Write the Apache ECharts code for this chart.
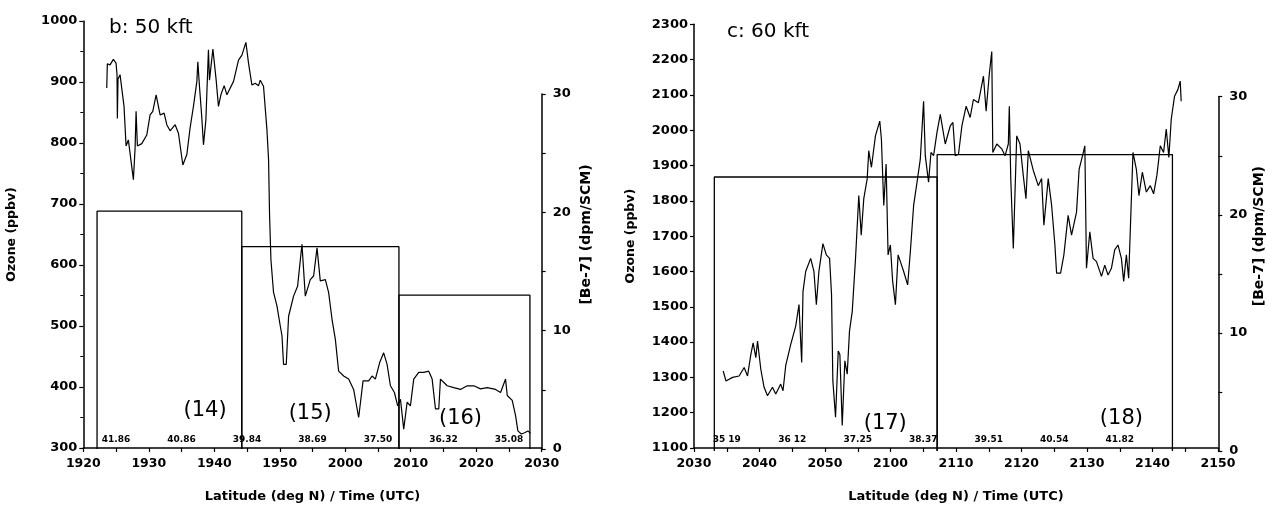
<!DOCTYPE html>
<html>
<head>
<meta charset="utf-8">
<script src="https://cdn.jsdelivr.net/npm/echarts@6/dist/echarts.min.js"></script>
<style>
  html, body { margin: 0; padding: 0; background: #fff; }
  #chart { width: 1267px; height: 508px; }
</style>
</head>
<body>
<div id="chart"></div>
<script>
// Time values are minutes after 18:00 UTC; axis labels are printed as HHMM.

// ---- Panel b: 50 kft ----
const bTime = [83.58, 83.67, 84.08, 84.59, 85.0, 85.15, 85.2, 85.3, 85.61, 85.87, 86.22, 86.53, 86.88, 87.14, 87.65, 87.91,
  88.06, 88.26, 88.93, 89.69, 90.2, 90.61, 91.12, 91.73, 92.34, 92.75, 93.26, 94.02, 94.53, 95.2, 95.81, 96.31,
  96.82, 97.34, 97.49, 97.74, 98.1, 98.35, 98.72, 99.11, 99.27, 99.79, 100.29, 100.64, 101.01, 101.51, 101.93, 102.94,
  103.7, 104.22, 104.83, 105.23, 105.75, 106.25, 106.76, 107.02, 107.52, 108.04, 108.29, 108.44, 108.65, 109.05, 109.57,
  110.08, 110.34, 110.58, 110.99, 111.35, 112.11, 112.72, 113.39, 113.9, 114.66, 115.17, 115.69, 116.19, 116.96, 117.46,
  117.98, 118.49, 118.99, 119.76, 120.52, 121.28, 122.05, 122.72, 123.58, 124.1, 124.6, 125.26, 125.87, 126.39, 126.9,
  127.51, 128.01, 128.43, 128.93, 129.45, 129.95, 130.46, 131.22, 131.99, 132.75, 133.27, 133.78, 134.28, 134.54,
  135.57, 136.57, 137.6, 138.62, 139.63, 140.66, 141.68, 142.95, 143.72, 144.48, 144.74, 145.5, 146.01, 146.36,
  146.88, 147.39, 147.89, 148.3];
const bOzone = [890, 930, 928, 937, 931, 912, 840, 905, 912, 915, 860, 795, 805, 808, 740, 792,
  852, 795, 799, 813, 846, 852, 879, 846, 849, 830, 820, 830, 816, 764, 781, 825,
  860, 901, 933, 893, 841, 797, 838, 953, 903, 954, 903, 860, 879, 894, 879, 901,
  936, 944, 965, 931, 895, 898, 894, 903, 893, 822, 773, 683, 609, 555, 533,
  500, 484, 437, 437, 516, 549, 565, 634, 549, 576, 582, 628, 574, 576, 555,
  511, 478, 426, 418, 413, 396, 350, 410, 410, 418, 413, 440, 456, 437, 402,
  391, 369, 380, 331, 375, 369, 413, 424, 424, 426, 413, 364, 364, 413,
  402, 399, 396, 402, 402, 397, 399, 396, 391, 413, 386, 378, 353, 328,
  323, 325, 328, 324];
// Be-7 sample boxes: start, end, value
const bBoxStart = [82.1, 104.2, 128.2];
const bBoxEnd = [104.2, 128.2, 148.2];
const bBe7 = [20.1, 17.1, 13.0];
const bBoxNames = ['(14)', '(15)', '(16)'];
const bBoxNameTime = [98.6, 114.65, 137.6];
const bBoxNameOzone = [361, 357, 349];
const bLatTime = [85, 95, 105, 115, 125, 135, 145];
const bLatText = ['41.86', '40.86', '39.84', '38.69', '37.50', '36.32', '35.08'];

// ---- Panel c: 60 kft ----
const cTime = [154.46, 154.87, 155.89, 156.89, 157.66, 158.17, 158.68, 159.03, 159.44, 159.7, 160.2, 160.7, 161.22, 161.98,
  162.48, 163.24, 163.59, 164.0, 164.76, 165.53, 166.03, 166.44, 166.64, 167.05, 167.81, 168.31, 168.68, 169.07, 169.68,
  170.2, 170.7, 171.0, 171.2, 171.61, 172.02, 172.27, 172.63, 173.03, 173.39, 173.74, 174.16, 174.66, 175.16, 175.53,
  175.92, 176.44, 176.68, 177.09, 177.7, 178.36, 178.61, 178.97, 179.33, 179.63, 179.98, 180.33, 180.75, 181.16, 181.51,
  182.01, 182.62, 183.03, 183.53, 184.05, 184.55, 185.05, 185.31, 185.81, 186.18, 186.58, 187.09, 187.6, 188.36, 189.12,
  189.53, 189.88, 190.38, 190.9, 191.55, 192.16, 192.66, 193.42, 194.19, 194.6, 195.1, 195.46, 195.62, 196.23, 196.99,
  197.49, 197.99, 198.14, 198.36, 198.75, 199.27, 199.77, 200.27, 200.68, 201.04, 201.8, 202.56, 203.07, 203.42, 204.08,
  204.6, 205.1, 205.36, 205.97, 206.47, 207.12, 207.64, 208.4, 208.8, 209.32, 209.67, 209.92, 210.43, 210.93, 211.45,
  212.21, 212.71, 213.21, 213.73, 214.23, 214.73, 215.25, 215.6, 216.01, 216.36, 216.62, 217.02, 217.53, 217.93, 218.45,
  219.06, 219.67, 220.17, 220.67, 221.19, 221.69, 222.1, 222.5, 222.86, 223.36, 223.87, 224.23, 224.38];
const cOzone = [1318, 1290, 1300, 1304, 1328, 1304, 1365, 1398, 1356, 1403, 1323, 1272, 1248, 1272,
  1253, 1281, 1262, 1333, 1393, 1445, 1506, 1342, 1543, 1600, 1637, 1600, 1506, 1600, 1679,
  1647, 1637, 1534, 1290, 1187, 1375, 1365, 1164, 1347, 1309, 1431, 1487, 1637, 1815, 1703,
  1806, 1862, 1942, 1895, 1984, 2026, 1975, 1787, 1904, 1647, 1675, 1572, 1506, 1647, 1628,
  1600, 1562, 1656, 1787, 1853, 1918, 2082, 1928, 1853, 1937, 1928, 1993, 2045, 1961, 2012,
  2022, 1928, 1932, 2012, 2068, 2036, 2087, 2078, 2153, 2054, 2162, 2223, 1937, 1961, 1947,
  1928, 1961, 2068, 1863, 1665, 1984, 1961, 1872, 1806, 1942, 1886, 1843, 1863, 1731, 1863,
  1787, 1675, 1595, 1595, 1647, 1759, 1703, 1768, 1890, 1928, 1956, 1609, 1712, 1637, 1628,
  1586, 1618, 1590, 1609, 1661, 1675, 1637, 1572, 1647, 1581, 1722, 1937, 1890, 1815, 1881,
  1825, 1843, 1820, 1872, 1956, 1937, 2003, 1923, 2031, 2096, 2115, 2139, 2082];
const cBoxStart = [153.1, 187.1];
const cBoxEnd = [187.1, 223.0];
const cBe7 = [23.2, 25.1];
const cBoxNames = ['(17)', '(18)'];
const cBoxNameTime = [179.2, 215.25];
const cBoxNameOzone = [1170, 1184];
const cLatTime = [155, 165, 175, 185, 195, 205, 215];
const cLatText = ['35 19', '36 12', '37.25', '38.37', '39.51', '40.54', '41.82'];

const FONT = 'DejaVu Sans';
const INK = '#000';

function hhmm(t) {
  const h = 18 + Math.floor(t / 60);
  const m = Math.round(t - Math.floor(t / 60) * 60);
  return String(h) + String(m).padStart(2, '0');
}
function plain(v) { return String(v); }
function zip(a, b) { return a.map((v, i) => [v, b[i]]); }

function timeAxis(grid, min, max, visible) {
  return {
    type: 'value', gridIndex: grid, min: min, max: max, interval: 10,
    show: visible,
    axisLine: { show: true, onZero: false, lineStyle: { color: INK, width: 1.5 } },
    axisTick: { show: true, length: 4, lineStyle: { color: INK, width: 1.2 } },
    minorTick: { show: true, splitNumber: 2, length: 4, lineStyle: { color: INK, width: 1.2 } },
    axisLabel: { color: INK, fontFamily: FONT, fontWeight: 'bold', fontSize: 12.5, margin: 9, formatter: hhmm },
    splitLine: { show: false },
    name: visible ? 'Latitude (deg N) / Time (UTC)' : '',
    nameLocation: 'middle', nameGap: 42,
    nameTextStyle: { color: INK, fontFamily: FONT, fontWeight: 'bold', fontSize: 13 }
  };
}
function ozoneAxis(grid, min, max, minor) {
  return {
    type: 'value', gridIndex: grid, position: 'left', min: min, max: max, interval: 100,
    axisLine: { show: true, lineStyle: { color: INK, width: 1.5 } },
    axisTick: { show: true, length: 4, lineStyle: { color: INK, width: 1.2 } },
    minorTick: { show: minor, splitNumber: 2, length: 3, lineStyle: { color: INK, width: 1 } },
    axisLabel: { color: INK, fontFamily: FONT, fontWeight: 'bold', fontSize: 13, margin: 6, formatter: plain },
    splitLine: { show: false },
    name: 'Ozone (ppbv)', nameLocation: 'middle', nameGap: minor ? 65 : 57, nameRotate: 90,
    nameTextStyle: { color: INK, fontFamily: FONT, fontWeight: 'bold', fontSize: 12.5 }
  };
}
function be7Axis(grid) {
  return {
    type: 'value', gridIndex: grid, position: 'right', min: 0, max: 30, interval: 10,
    axisLine: { show: true, lineStyle: { color: INK, width: 1.5 } },
    axisTick: { show: true, length: 4, lineStyle: { color: INK, width: 1.2 } },
    minorTick: { show: true, splitNumber: 2, length: 4, lineStyle: { color: INK, width: 1.2 } },
    axisLabel: { color: INK, fontFamily: FONT, fontWeight: 'bold', fontSize: 13, margin: 11, formatter: plain },
    splitLine: { show: false }
  };
}
// carries the Be-7 axis title centred on the full plot height
function be7NameAxis(grid, gap) {
  return {
    type: 'value', gridIndex: grid, position: 'right', min: 0, max: 1,
    axisLine: { show: false }, axisTick: { show: false }, axisLabel: { show: false }, splitLine: { show: false },
    name: '[Be-7] (dpm/SCM)', nameLocation: 'middle', nameGap: gap, nameRotate: 90,
    nameTextStyle: { color: INK, fontFamily: FONT, fontWeight: 'bold', fontSize: 14 }
  };
}

function traceSeries(xi, yi, t, v) {
  return {
    type: 'line', xAxisIndex: xi, yAxisIndex: yi, data: zip(t, v),
    showSymbol: false, symbol: 'none', animation: false, silent: true,
    lineStyle: { color: INK, width: 1.2 }
  };
}
function boxSeries(xi, yi, starts, ends, vals) {
  return starts.map((s, i) => ({
    type: 'line', xAxisIndex: xi, yAxisIndex: yi,
    data: [[s, 0], [s, vals[i]], [ends[i], vals[i]], [ends[i], 0]],
    showSymbol: false, symbol: 'none', animation: false, silent: true,
    lineStyle: { color: INK, width: 1.3 }
  }));
}
function textSeries(xi, yi, xs, ys, texts, style, pos, dist) {
  return {
    type: 'scatter', xAxisIndex: xi, yAxisIndex: yi, symbolSize: 0, silent: true, animation: false,
    itemStyle: { opacity: 1, color: INK },
    data: xs.map((x, i) => ({ value: [x, ys[i]], name: texts[i] })),
    label: Object.assign({ show: true, position: pos, distance: dist, formatter: p => p.name, color: INK, opacity: 1, fontFamily: FONT }, style)
  };
}

const chart = echarts.init(document.getElementById('chart'), null, { renderer: 'canvas' });
chart.setOption({
  backgroundColor: '#fff',
  animation: false,
  title: [
    { text: 'b: 50 kft', left: 104, top: 13, textStyle: { color: INK, fontFamily: FONT, fontWeight: 'normal', fontSize: 20 } },
    { text: 'c: 60 kft', left: 722, top: 17, textStyle: { color: INK, fontFamily: FONT, fontWeight: 'normal', fontSize: 20 } }
  ],
  grid: [
    { left: 83.3, top: 21, width: 458.4, height: 428 },
    { left: 83.3, top: 94, width: 458.4, height: 355 },
    { left: 694, top: 24.3, width: 524.3, height: 426.7 },
    { left: 694, top: 96.7, width: 524.3, height: 354.3 }
  ],
  xAxis: [
    timeAxis(0, 80, 150, true),
    timeAxis(1, 80, 150, false),
    timeAxis(2, 150, 230, true),
    timeAxis(3, 150, 230, false)
  ],
  yAxis: [
    ozoneAxis(0, 300, 1000, true),
    be7Axis(1),
    be7NameAxis(0, 38),
    ozoneAxis(2, 1100, 2300, false),
    be7Axis(3),
    be7NameAxis(2, 34)
  ],
  series: [
    traceSeries(0, 0, bTime, bOzone),
    ...boxSeries(1, 1, bBoxStart, bBoxEnd, bBe7),
    textSeries(0, 0, bBoxNameTime, bBoxNameOzone, bBoxNames, { fontSize: 21, textBorderWidth: 0 }, 'inside', 0),
    textSeries(0, 0, bLatTime, bLatTime.map(() => 300), bLatText, { fontSize: 9, fontWeight: 'bold' }, 'top', 4),
    traceSeries(2, 3, cTime, cOzone),
    ...boxSeries(3, 4, cBoxStart, cBoxEnd, cBe7),
    textSeries(2, 3, cBoxNameTime, cBoxNameOzone, cBoxNames, { fontSize: 21, textBorderWidth: 0 }, 'inside', 0),
    textSeries(2, 3, cLatTime, cLatTime.map(() => 1100), cLatText, { fontSize: 9, fontWeight: 'bold' }, 'top', 4)
  ]
});
</script>
</body>
</html>
